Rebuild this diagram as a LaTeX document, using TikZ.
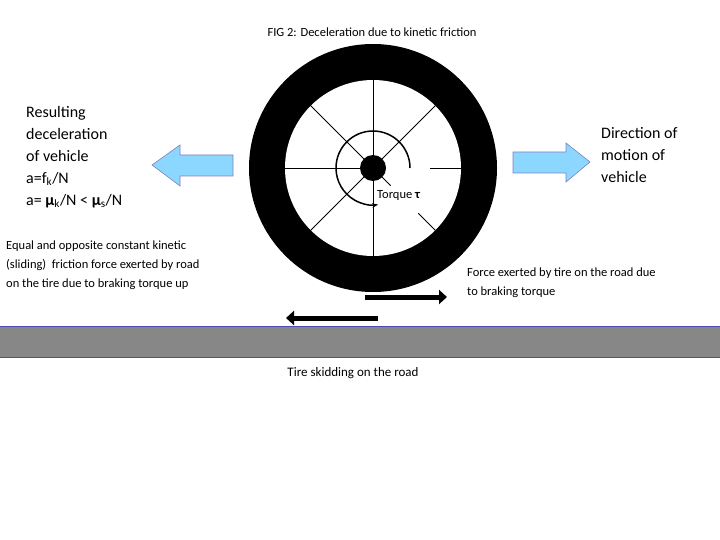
\documentclass[tikz,border=0pt]{standalone}
\usepackage{fontspec}
\setmainfont{Carlito}
\usetikzlibrary{arrows.meta,calc}
\begin{document}
\begin{tikzpicture}[x=1pt,y=-1pt,
  lbl/.style={inner sep=0pt,align=left,anchor=north west},
  barrow/.style={draw=blue!50!black!50,fill=blue!35!cyan!45,line width=0.6pt},
  force/.style={line width=5pt,-{Triangle[length=8pt,width=14pt]}}]
\useasboundingbox (0,0) rectangle (720,540);
\node[font=\fontsize{12.5}{15}\selectfont] (title) at (372,32) {FIG 2: Deceleration due to kinetic friction};
% wheel
\coordinate (c) at (373,168);
\fill[black] (c) circle (124);
\fill[white] (c) circle (88);
\foreach \a in {-45,90,-135,180,135,-90} \draw[thick] (c) -- ++(\a:88);
\draw[thick] ($(c)+(57,0)$) -- ++(31,0);
\draw[thick] (c) -- ++(45:25);
\draw[thick] ($(c)+(45:64)$) -- ++(45:24);
\fill[black] (c) circle (13);
\draw[line width=1.5pt,-{Stealth[length=6pt]}] ($(c)+(37,0)$) arc[start angle=0,delta angle=-278,radius=37];
\node[lbl,font=\fontsize{12.5}{15}\selectfont] (torque) at (377,190) {Torque \textbf{τ}};
% ground
\node[draw=blue!40!gray,fill=gray!95!black!90,minimum width=724pt,minimum height=31pt,inner sep=0pt,anchor=north west] (road) at (-2,326) {};
\node[font=\fontsize{13}{15}\selectfont] (skid) at (353,373) {Tire skidding on the road};
% force arrows
\coordinate (f1a) at (365,297); \coordinate (f1b) at (447,297);
\coordinate (f2a) at (378,318); \coordinate (f2b) at (286,318);
\draw[force] (f1a) -- (f1b);
\draw[force] (f2a) -- (f2b);
% blue arrows
\draw[barrow] (152,165) -- (180,145) -- (180,155) -- (233,155) -- (233,176) -- (180,176) -- (180,186) -- cycle;
\draw[barrow] (590,162) -- (566,143) -- (566,152) -- (513,152) -- (513,173) -- (566,173) -- (566,182) -- cycle;
% texts
\node[lbl,font=\fontsize{16}{22}\selectfont] (res) at (26,106) {Resulting\\deceleration\\of vehicle\\a=f\textsubscript{k}/N\\a= \textbf{μ}\textsubscript{k}/N < \textbf{μ}\textsubscript{s}/N};
\node[lbl,font=\fontsize{16}{22}\selectfont] (dir) at (601,127) {Direction of\\motion of\\vehicle};
\node[lbl,font=\fontsize{12.5}{19}\selectfont] (eq) at (6,241) {Equal and opposite constant kinetic\\(sliding)\ \ friction force exerted by road\\on the tire due to braking torque up};
\node[lbl,font=\fontsize{12.5}{19}\selectfont] (fe) at (467,268) {Force exerted by tire on the road due\\to braking torque};
\end{tikzpicture}
\end{document}
